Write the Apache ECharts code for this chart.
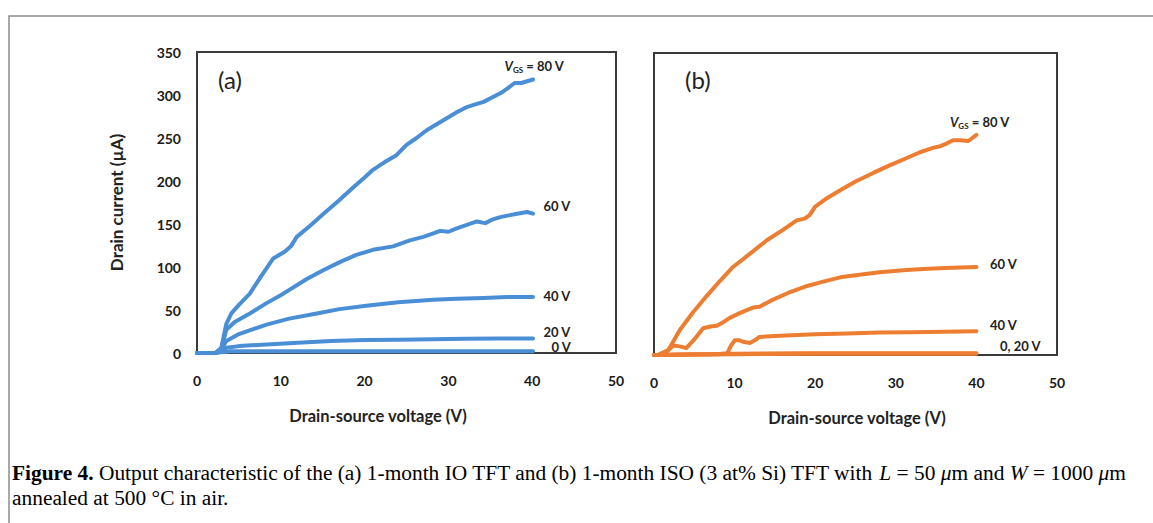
<!DOCTYPE html>
<html>
<head>
<meta charset="utf-8">
<script src="https://cdn.jsdelivr.net/npm/echarts@6/dist/echarts.min.js"></script>
<style>
  html, body { margin: 0; padding: 0; background: #ffffff; }
  #chart { width: 1153px; height: 523px; }
</style>
</head>
<body>
<div id="chart"></div>
<script>
// Axis ranges shared by both panels
const X_MIN = 0, X_MAX = 50, X_STEP = 10;
const Y_MIN = 0, Y_MAX = 350, Y_STEP = 50;

// Panel (a): 1-month IO TFT, drain-source voltage (V) vs drain current (µA)
const vA80 = [0, 2.2, 2.9, 3.5, 4.1, 5, 6.3, 7.7, 9.1, 10.5, 11.2, 11.9, 13.5, 15.1, 16.9, 18.7, 20, 21, 22.4, 23.8, 25, 26.2, 27.4, 28.6, 29.8, 31, 32.2, 33.2, 34.2, 35.2, 36.2, 37.1, 37.9, 38.7, 39.4, 40.1];
const iA80 = [0, 0, 6, 34, 46, 56, 69, 90, 110, 118, 124, 135, 148, 162, 177, 193, 204, 213, 222, 230, 242, 250, 259, 266, 273, 280, 286, 289, 292, 297, 302, 308, 314, 314, 316, 318];

const vA60 = [0, 2.2, 2.9, 3.5, 4.5, 6.3, 8.3, 10.3, 13.1, 15, 17.1, 19, 21, 23.4, 25.4, 27, 28.2, 29, 30, 31, 32.2, 33.4, 34.4, 35.2, 36.2, 37.2, 38.2, 39.4, 40.1];
const iA60 = [0, 0, 5, 27, 36, 46, 58, 69, 86, 96, 106, 114, 120, 124, 131, 135, 139, 142, 141, 145, 149, 153, 151, 155, 158, 160, 162, 164, 162];

const vA40 = [0, 2.2, 2.9, 3.5, 5, 8.3, 11, 14.3, 17, 20.2, 24, 28.2, 31, 34.2, 37, 40.1];
const iA40 = [0, 0, 4, 14, 22, 33, 40, 46, 51, 55, 59, 62, 63, 64, 65, 65];

const vA20 = [0, 2.2, 2.9, 3.5, 5, 8.3, 12, 16, 20, 24, 28.2, 32, 36, 40.1];
const iA20 = [0, 0, 2, 6, 8, 10, 12, 14, 15, 15.5, 16, 16.5, 17, 17];

const vA0 = [0, 2.2, 3, 4, 10, 20, 30, 40.1];
const iA0 = [0, 0, 1, 2, 2, 2, 2, 2];

// Panel (b): 1-month ISO (3 at% Si) TFT
const vB80 = [0, 0.5, 1.8, 3.2, 4.8, 6.5, 8.2, 9.8, 12, 14, 16, 17.7, 18.7, 19.3, 20, 21.5, 23.1, 25, 27.2, 29.3, 31.3, 33, 34.6, 35.5, 36.3, 37.1, 38, 39, 40];
const iB80 = [0, 0, 6, 29, 49, 68, 86, 102, 118, 133, 145, 156, 158, 162, 172, 182, 191, 201, 211, 220, 228, 235, 240, 242, 245, 249, 249, 248, 255];

const vB60 = [0, 0.5, 1.6, 2.4, 3.2, 4, 5, 6.1, 7, 7.8, 8.6, 9.4, 10.5, 11.5, 12.3, 13.1, 14.5, 16.9, 19, 21, 23.1, 25.5, 28, 31.3, 34, 37, 40];
const iB60 = [0, 0, 4, 11, 10, 8, 18, 31, 33, 34, 38, 43, 48, 52, 55, 56, 63, 73, 80, 85, 90, 93, 96, 98.5, 100, 101, 102];

const vB40 = [0, 5, 8, 9.1, 9.5, 10, 10.6, 11.2, 11.9, 12.5, 13.1, 15, 17, 20, 24, 28, 32, 36, 40];
const iB40 = [0, 0.5, 1, 2, 10, 17, 17, 15, 14, 17, 21, 22, 23, 24, 25, 26, 26.5, 27, 27.5];

const vB20 = [0, 0.5, 3, 6, 10, 20, 30, 40];
const iB20 = [0, 0, 0.5, 1, 1.5, 2, 2, 2];

const vB0 = [0, 0.5, 3, 6, 10, 20, 30, 40];
const iB0 = [0, 0, 0.3, 0.6, 1, 1.5, 1.5, 1.5];

// Curve labels (gate voltage)
const labelsA = ['{v|V}{s|GS} = 80 V', '60 V', '40 V', '20 V', '0 V'];
const labelsB = ['{v|V}{s|GS} = 80 V', '60 V', '40 V', '0, 20 V', ''];

const BLUE = '#4a8fd6';
const ORANGE = '#ed7d31';
const FONT = 'Lato, "Open Sans", sans-serif';

const zip = (xs, ys) => xs.map((x, i) => [x, ys[i]]);

// pixel offsets of each curve label from the curve's last point
const labelOffsetsA = [[-28, -13], [11, -7], [11, -1], [11, -6], [19, -4]];
const labelOffsetsB = [[-26, -12], [14, -2], [14, -6], [24, -7], [0, 0]];

const richLabel = {
  v: { fontStyle: 'italic', fontWeight: 'bold', fontSize: 13, fontFamily: FONT, color: '#222' },
  s: { fontWeight: 'bold', fontSize: 8, fontFamily: FONT, color: '#222', padding: [7, 0, 0, 0] }
};

function curve(name, xs, ys, color, gridIdx, text, off) {
  const pts = zip(xs, ys);
  const last = pts[pts.length - 1];
  const s = {
    name: name,
    type: 'line',
    xAxisIndex: gridIdx,
    yAxisIndex: gridIdx,
    data: pts,
    showSymbol: false,
    symbol: 'none',
    animation: false,
    z: 3,
    lineStyle: { color: color, width: 4, cap: 'round', join: 'round' }
  };
  if (text) {
    s.markPoint = {
      symbol: 'circle',
      symbolSize: 1,
      itemStyle: { color: 'rgba(0,0,0,0)' },
      animation: false,
      silent: true,
      data: [{ coord: last }],
      label: {
        show: true,
        position: off,
        align: 'left',
        verticalAlign: 'middle',
        formatter: text,
        fontFamily: FONT,
        fontWeight: 'bold',
        fontSize: 13,
        color: '#222',
        rich: richLabel
      }
    };
  }
  return s;
}

const seriesA = [
  [vA80, iA80], [vA60, iA60], [vA40, iA40], [vA20, iA20], [vA0, iA0]
].map((d, i) => curve('a' + i, d[0], d[1], BLUE, 0, labelsA[i], labelOffsetsA[i]));

const seriesB = [
  [vB80, iB80], [vB60, iB60], [vB40, iB40], [vB20, iB20], [vB0, iB0]
].map((d, i) => curve('b' + i, d[0], d[1], ORANGE, 1, labelsB[i], labelOffsetsB[i]));

const axisText = { fontFamily: FONT, fontWeight: 'bold', fontSize: 14, color: '#1a1a1a' };

function xAxis(gridIndex) {
  return {
    type: 'value', gridIndex: gridIndex,
    min: X_MIN, max: X_MAX, interval: X_STEP,
    axisLine: { show: false }, axisTick: { show: false }, splitLine: { show: false },
    axisLabel: Object.assign({ margin: 20 }, axisText)
  };
}
function yAxis(gridIndex, showLabels) {
  const ax = {
    type: 'value', gridIndex: gridIndex,
    min: Y_MIN, max: Y_MAX, interval: Y_STEP,
    axisLine: { show: false }, axisTick: { show: false }, splitLine: { show: false },
    axisLabel: Object.assign({ show: showLabels, margin: 16 }, axisText)
  };
  if (showLabels) {
    ax.name = 'Drain current (µA)';
    ax.nameLocation = 'middle';
    ax.nameRotate = 90;
    ax.nameGap = 72;
    ax.nameTextStyle = { fontFamily: FONT, fontWeight: 'bold', fontSize: 17, color: '#222' };
  }
  return ax;
}

const chart = echarts.init(document.getElementById('chart'), null, { renderer: 'svg' });

const captionStyle = {
  fontFamily: '"Liberation Serif", "Times New Roman", serif',
  fontSize: 20,
  color: '#111'
};
const CAPTION_STRETCH = 1.07;

chart.setOption({
  animation: false,
  backgroundColor: '#ffffff',
  grid: [
    { left: 197, right: 537, top: 52, bottom: 170, show: true, borderColor: '#3a3a3a', borderWidth: 2, backgroundColor: 'transparent' },
    { left: 654, right: 96, top: 53, bottom: 168, show: true, borderColor: '#3a3a3a', borderWidth: 2, backgroundColor: 'transparent' }
  ],
  xAxis: [xAxis(0), xAxis(1)],
  yAxis: [yAxis(0, true), yAxis(1, false)],
  series: seriesA.concat(seriesB),
  graphic: [
    // figure frame
    { type: 'polyline', z: 1, shape: { points: [[9, 523], [9, 16], [1153, 16]] }, style: { stroke: '#8c8c8c', lineWidth: 1.5, fill: null } },
    // panel tags
    { type: 'text', x: 218, y: 79, style: { text: '(a)', fontFamily: FONT, fontSize: 24, fill: '#222', verticalAlign: 'middle' } },
    { type: 'text', x: 685, y: 79, style: { text: '(b)', fontFamily: FONT, fontSize: 24, fill: '#222', verticalAlign: 'middle' } },
    // x-axis titles
    { type: 'text', x: 378, y: 416, style: { text: 'Drain-source voltage (V)', fontFamily: FONT, fontWeight: 'bold', fontSize: 16.5, fill: '#222', align: 'center', verticalAlign: 'middle' } },
    { type: 'text', x: 857, y: 418, style: { text: 'Drain-source voltage (V)', fontFamily: FONT, fontWeight: 'bold', fontSize: 16.5, fill: '#222', align: 'center', verticalAlign: 'middle' } },
    // caption
    {
      type: 'text', x: 12, y: 473, scaleX: CAPTION_STRETCH,
      style: Object.assign({
        text: '{b|Figure 4.} Output characteristic of the (a) 1-month IO TFT and (b) 1-month ISO (3 at% Si) TFT with {i|L} = 50 {i|μ}m and {i|W} = 1000 {i|μ}m',
        verticalAlign: 'middle',
        rich: {
          b: Object.assign({}, captionStyle, { fontWeight: 'bold' }),
          i: Object.assign({}, captionStyle, { fontStyle: 'italic' })
        }
      }, captionStyle)
    },
    {
      type: 'text', x: 12, y: 498, scaleX: CAPTION_STRETCH,
      style: Object.assign({ text: 'annealed at 500 °C in air.', verticalAlign: 'middle' }, captionStyle)
    }
  ]
});
</script>
</body>
</html>
